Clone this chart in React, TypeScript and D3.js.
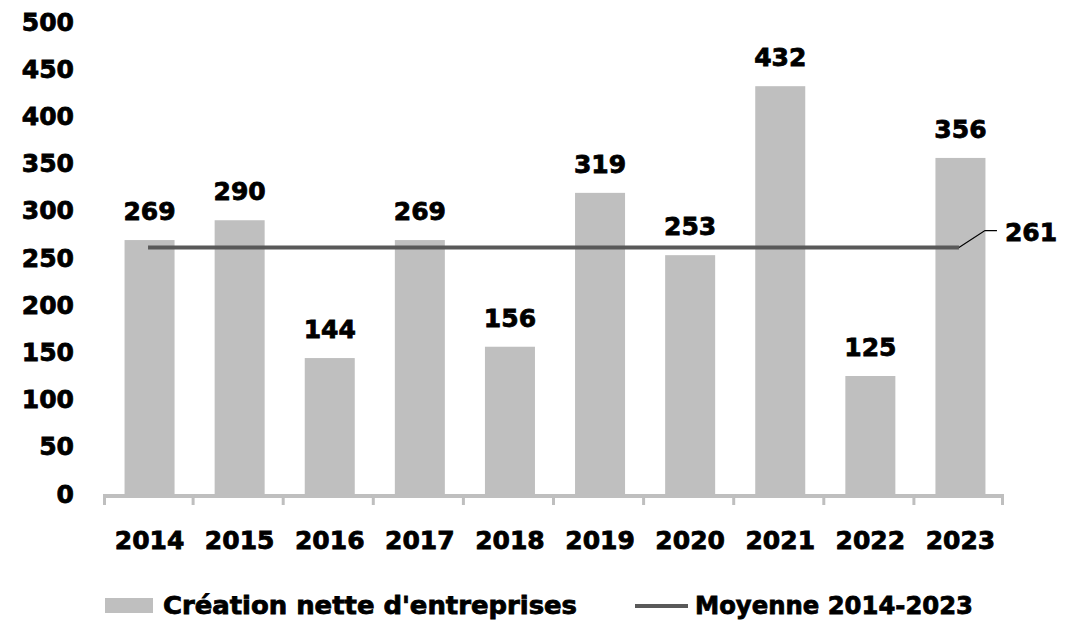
import React from "react";
import * as d3 from "d3";

const years = ["2014", "2015", "2016", "2017", "2018", "2019", "2020", "2021", "2022", "2023"];
const creations = [269, 290, 144, 269, 156, 319, 253, 432, 125, 356];
const average = 261;
const yTicks = [0, 50, 100, 150, 200, 250, 300, 350, 400, 450, 500];
const seriesNames = ["Création nette d'entreprises", "Moyenne 2014-2023"];

const W = 1078;
const H = 623;
const FONT = "'DejaVu Sans', sans-serif";
const BAR = "#bfbfbf";
const LINE = "#595959";

export default function App() {
  const x = d3.scaleBand<string>().domain(years).range([104.5, 1005.5]).paddingInner(0.445).paddingOuter(0.2225);
  const y = d3.scaleLinear().domain([0, 500]).range([494, 22]);
  const step = x.step();
  const x0 = 103;
  const xEnd = 1004;
  const cx = (d: string) => (x(d) as number) + x.bandwidth() / 2;
  const lineGen = d3.line<number>().x((_, i) => cx(years[i]) - 1.5).y(() => y(average));
  const last = years[years.length - 1];
  const textStyle = { fontFamily: FONT, fontWeight: 700, fill: "#000", stroke: "#000", strokeWidth: 0.8 } as const;
  const fs = 25;
  const meanY = y(average);
  const lastX = cx(last) - 1.5;

  return (
    <svg width={W} height={H} style={{ position: "absolute", left: 0, top: 0, background: "#fff" }}>
      {years.map((d, i) => (
        <rect key={d} x={x(d)} y={y(creations[i])} width={x.bandwidth()} height={y(0) - y(creations[i])} fill={BAR} />
      ))}
      <line x1={x0} x2={xEnd} y1={y(0) + 2} y2={y(0) + 2} stroke={BAR} strokeWidth={4} />
      {d3.range(years.length + 1).map((i) => {
        const tx = x0 + i * step + (i === 0 ? 1.5 : i === years.length ? -1.5 : 0);
        return <line key={i} x1={tx} x2={tx} y1={y(0)} y2={y(0) + 11} stroke={BAR} strokeWidth={3} />;
      })}
      <path d={lineGen(creations) as string} fill="none" stroke={LINE} strokeWidth={4} />
      <polyline points={`${lastX},${meanY} ${lastX + 26},${meanY - 17} ${lastX + 38},${meanY - 17}`} fill="none" stroke="#000" strokeWidth={1.2} />
      <text x={lastX + 46} y={meanY - 15} dominantBaseline="central" fontSize={fs} style={textStyle}>{average}</text>
      {yTicks.map((t) => (
        <text key={t} x={74} y={y(t)} textAnchor="end" dominantBaseline="central" fontSize={fs} style={textStyle}>{t}</text>
      ))}
      {years.map((d, i) => (
        <text key={d} x={cx(d)} y={y(creations[i]) - 20} textAnchor="middle" fontSize={fs} style={textStyle}>{creations[i]}</text>
      ))}
      {years.map((d) => (
        <text key={d} x={cx(d)} y={540} textAnchor="middle" dominantBaseline="central" fontSize={fs} style={textStyle}>{d}</text>
      ))}
      <rect x={105} y={598} width={48} height={15} fill={BAR} />
      <text x={163} y={605} dominantBaseline="central" fontSize={fs} style={textStyle} textLength={414} lengthAdjust="spacingAndGlyphs">{seriesNames[0]}</text>
      <line x1={635} x2={688} y1={606} y2={606} stroke={LINE} strokeWidth={4} />
      <text x={695} y={605} dominantBaseline="central" fontSize={fs} style={textStyle} textLength={278} lengthAdjust="spacingAndGlyphs">{seriesNames[1]}</text>
    </svg>
  );
}
